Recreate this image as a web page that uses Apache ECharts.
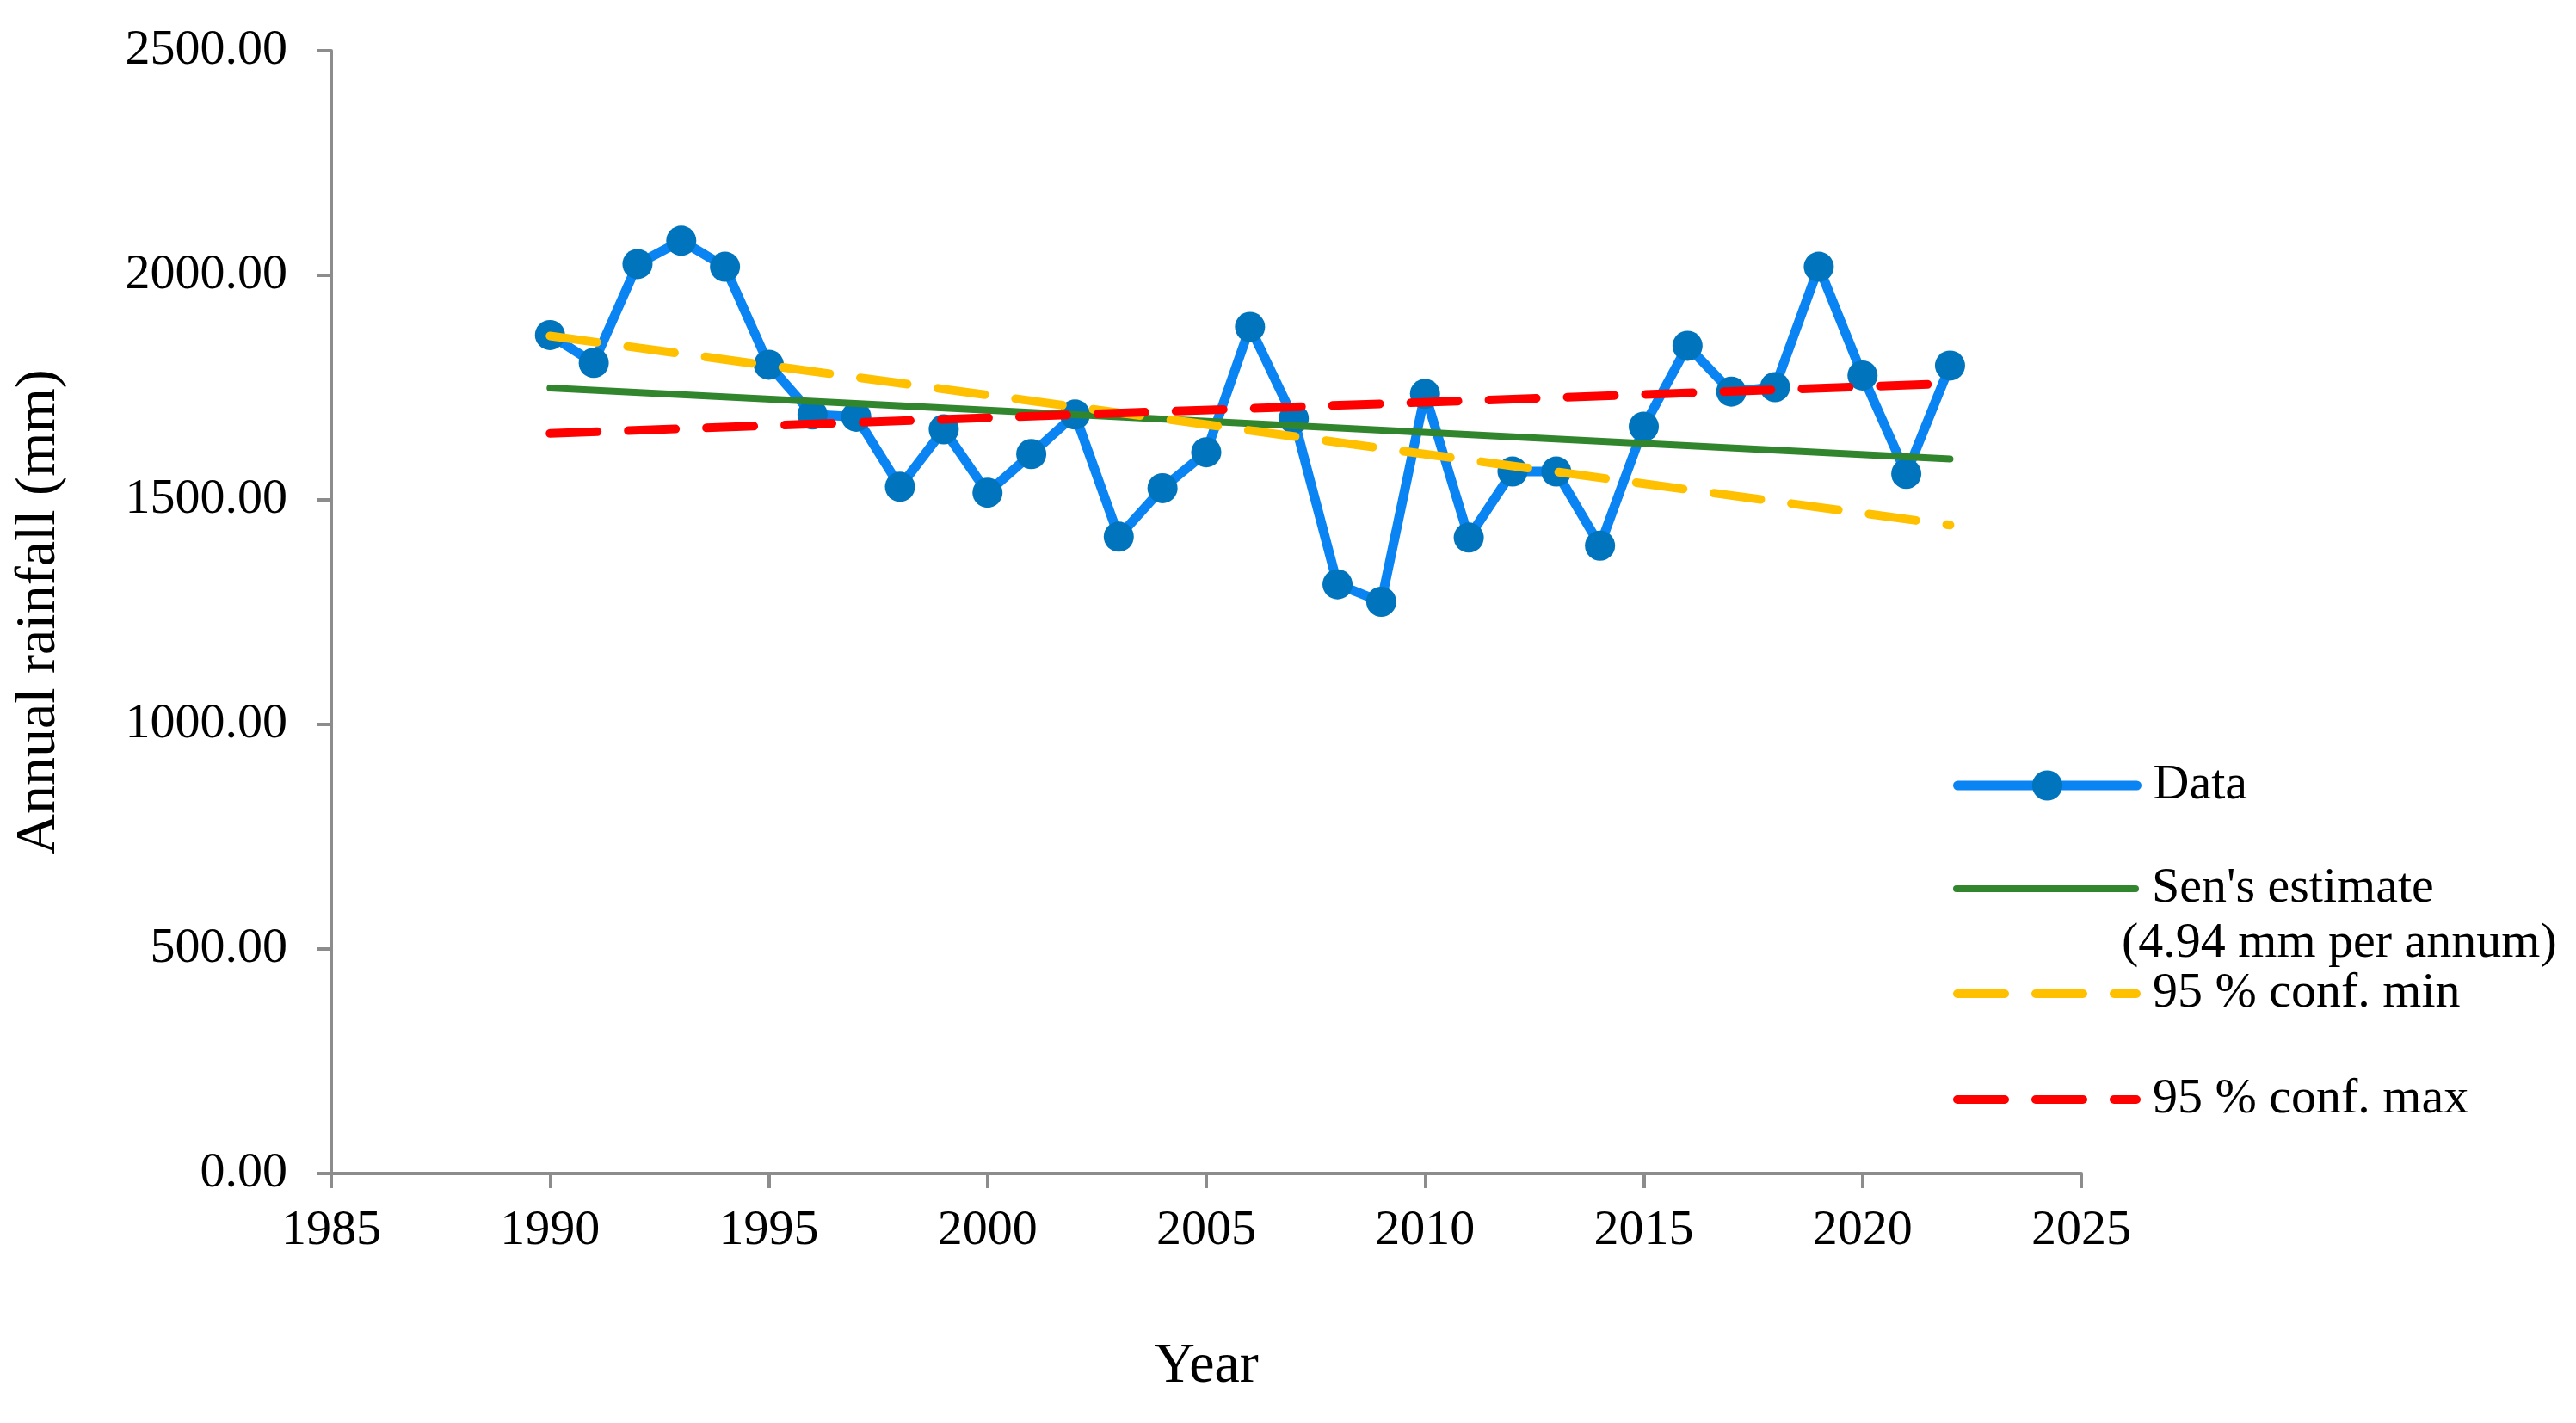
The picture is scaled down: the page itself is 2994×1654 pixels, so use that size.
<!DOCTYPE html>
<html>
<head>
<meta charset="utf-8">
<script src="https://cdn.jsdelivr.net/npm/echarts@6/dist/echarts.min.js"></script>
<style>html,body{margin:0;padding:0;background:#fff}#c{width:2994px;height:1654px}</style>
</head>
<body>
<div id="c"></div>
<script>
const years = [1990,1991,1992,1993,1994,1995,1996,1997,1998,1999,2000,2001,2002,2003,2004,2005,2006,2007,2008,2009,2010,2011,2012,2013,2014,2015,2016,2017,2018,2019,2020,2021,2022];
const rainfall = [1867,1805,2025,2077,2019,1801,1690,1685,1529,1657,1516,1602,1690,1418,1526,1606,1885,1681,1312,1273,1736,1416,1563,1563,1398,1663,1843,1741,1751,2019,1777,1558,1799];
const trendYears = [1990, 2022];
const senEstimate = [1749, 1591];
const confMin = [1865, 1444];
const confMax = [1648, 1759];
const yTicks = [0, 500, 1000, 1500, 2000, 2500];
const xTicks = [1985, 1990, 1995, 2000, 2005, 2010, 2015, 2020, 2025];
const seriesNames = ['Data', "Sen's estimate", '95 % conf. min', '95 % conf. max'];
const senNote = '(4.94 mm per annum)';

const FONT = '"Liberation Serif", "Times New Roman", serif';
const axisGray = '#8c8c8c';
const pairs = (xs, ys) => xs.map((x, i) => [x, ys[i]]);

const chart = echarts.init(document.getElementById('c'), null, {renderer: 'canvas'});

function legendAt(name, top, itemHeight, lineWidth) {
  return {
    data: [name],
    orient: 'vertical',
    left: 2270,
    top: top,
    padding: 0,
    itemWidth: 208,
    itemHeight: itemHeight,
    selectedMode: false,
    lineStyle: {width: lineWidth, cap: 'round'},
    textStyle: {fontFamily: FONT, fontSize: 58, color: '#000', lineHeight: 58, padding: [0, 0, 0, 14]}
  };
}

chart.setOption({
  animation: false,
  backgroundColor: '#fff',
  textStyle: {fontFamily: FONT},
  grid: {left: 385, right: 575, top: 59, bottom: 290, containLabel: false},
  title: {
    text: senNote,
    left: 2466,
    top: 1068,
    padding: 0,
    textStyle: {fontFamily: FONT, fontSize: 58, fontWeight: 'normal', color: '#000', lineHeight: 58}
  },
  legend: [
    legendAt(seriesNames[0], 884, 44, 11),
    legendAt(seriesNames[1], 1004, 2, 8),
    legendAt(seriesNames[2], 1126, 2, 10),
    legendAt(seriesNames[3], 1249, 2, 10)
  ],
  xAxis: {
    type: 'value',
    min: xTicks[0],
    max: xTicks[xTicks.length - 1],
    interval: 5,
    name: 'Year',
    nameLocation: 'middle',
    nameGap: 192,
    nameTextStyle: {fontFamily: FONT, fontSize: 66, color: '#000'},
    axisLine: {show: true, onZero: false, lineStyle: {color: axisGray, width: 4}},
    axisTick: {show: true, inside: false, length: 17, lineStyle: {color: axisGray, width: 4}},
    axisLabel: {fontFamily: FONT, fontSize: 58, color: '#000', margin: 38, formatter: v => String(v)},
    splitLine: {show: false}
  },
  yAxis: {
    type: 'value',
    min: yTicks[0],
    max: yTicks[yTicks.length - 1],
    interval: 500,
    name: 'Annual rainfall (mm)',
    nameLocation: 'middle',
    nameGap: 306,
    nameTextStyle: {fontFamily: FONT, fontSize: 66, color: '#000'},
    axisLine: {show: true, lineStyle: {color: axisGray, width: 4}},
    axisTick: {show: true, inside: false, length: 17, lineStyle: {color: axisGray, width: 4}},
    axisLabel: {fontFamily: FONT, fontSize: 58, color: '#000', margin: 51, formatter: v => v.toFixed(2)},
    splitLine: {show: false}
  },
  series: [
    {
      name: seriesNames[0],
      type: 'line',
      z: 2,
      data: pairs(years, rainfall),
      symbol: 'circle',
      symbolSize: 35,
      showSymbol: true,
      lineStyle: {color: '#0A84F2', width: 11, join: 'round', cap: 'round'},
      itemStyle: {color: '#0075BD', borderWidth: 0}
    },
    {
      name: seriesNames[1],
      type: 'line',
      z: 3,
      data: pairs(trendYears, senEstimate),
      symbol: 'circle',
      symbolSize: 0,
      showSymbol: false,
      lineStyle: {color: '#31862D', width: 8, cap: 'round'},
      itemStyle: {color: '#31862D'}
    },
    {
      name: seriesNames[2],
      type: 'line',
      z: 4,
      data: pairs(trendYears, confMin),
      symbol: 'circle',
      symbolSize: 0,
      showSymbol: false,
      lineStyle: {color: '#FFC000', width: 10, type: [55, 36], cap: 'round'},
      itemStyle: {color: '#FFC000'}
    },
    {
      name: seriesNames[3],
      type: 'line',
      z: 5,
      data: pairs(trendYears, confMax),
      symbol: 'circle',
      symbolSize: 0,
      showSymbol: false,
      lineStyle: {color: '#FF0000', width: 10, type: [55, 36], cap: 'round'},
      itemStyle: {color: '#FF0000'}
    }
  ]
});
</script>
</body>
</html>
